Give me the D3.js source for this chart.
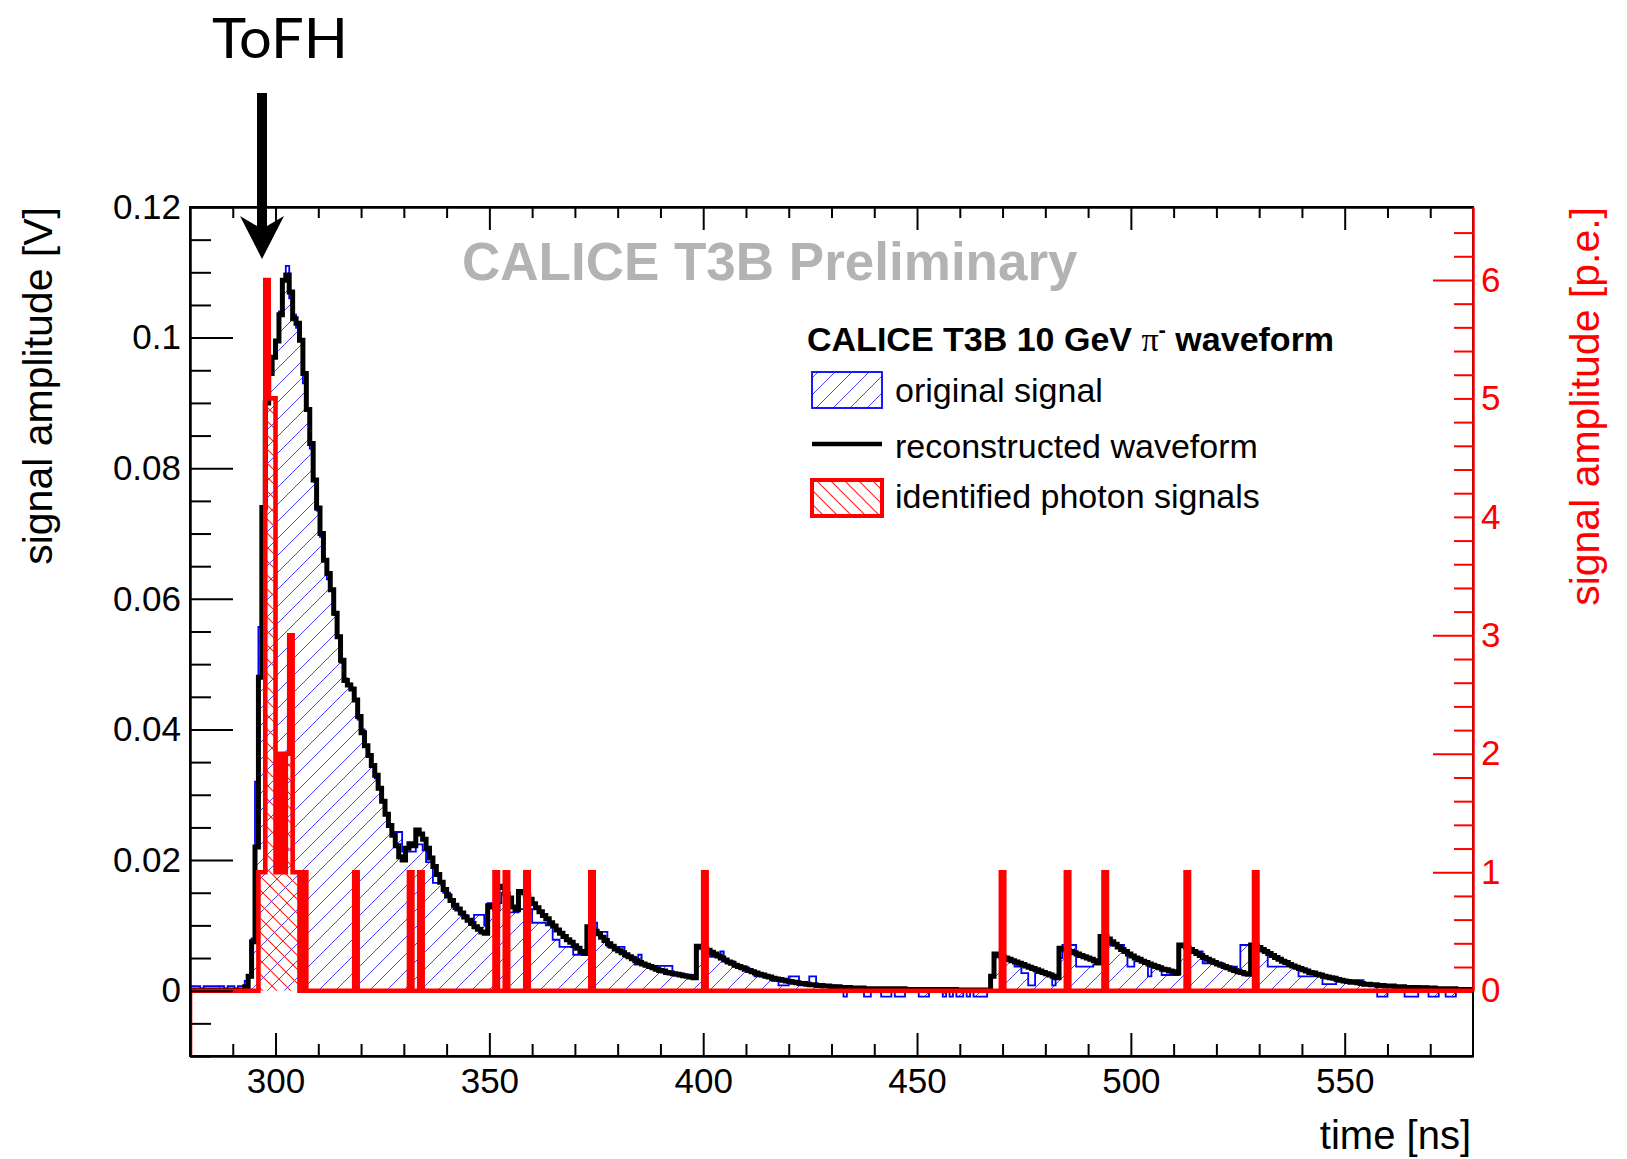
<!DOCTYPE html>
<html><head><meta charset="utf-8">
<script src="https://cdn.jsdelivr.net/npm/d3@7"></script>
<style>body{margin:0;background:#fff}svg{display:block}</style>
</head><body>
<script>
// ---------- DATA ----------
const binStart = 280, binWidth = 0.8;
// reconstructed waveform [V], one value per 0.8 ns bin from 280 ns
const reconstructed = [
0.0001,0.0001,0.0001,0.0001,0.0001,0.0001,0.0001,0.0001,0.0001,0.0001,
0.0001,0.0001,0.0001,0.0001,0.0001,0.0001,0.0006,0.0022,0.0075,0.022,
0.048,0.074,0.090,0.0945,0.097,0.0995,0.1035,0.1088,0.1096,0.107,
0.1029,0.1022,0.0996,0.0945,0.089,0.0838,0.0782,0.0739,0.070,0.0659,
0.0639,0.0614,0.0578,0.0542,0.0506,0.0475,0.0468,0.0462,0.0445,0.042,
0.0395,0.0375,0.036,0.0345,0.033,0.031,0.029,0.027,0.0253,0.0238,
0.0222,0.0205,0.0200,0.0218,0.0225,0.0222,0.0246,0.0240,0.0232,0.0218,
0.0203,0.0190,0.0178,0.0166,0.0155,0.0145,0.0138,0.0131,0.0125,0.0119,
0.0113,0.0108,0.0103,0.0098,0.0094,0.0090,0.0088,0.0130,0.0128,0.0125,
0.0160,0.0158,0.0148,0.0142,0.0128,0.0124,0.0152,0.0150,0.0146,0.0140,
0.0133,0.0127,0.0121,0.0115,0.0110,0.0104,0.0099,0.0093,0.0088,0.0083,
0.0078,0.0074,0.0069,0.0065,0.0060,0.0057,0.0098,0.0095,0.0091,0.0087,
0.0082,0.0077,0.0072,0.0068,0.0064,0.0061,0.0058,0.0055,0.0052,0.0049,
0.0046,0.0043,0.0041,0.0039,0.0037,0.0035,0.0033,0.0031,0.0030,0.0028,
0.0027,0.0026,0.0025,0.0024,0.0023,0.0022,0.0021,0.0020,0.0068,0.0067,
0.0065,0.0062,0.0059,0.0056,0.0053,0.0050,0.0047,0.0044,0.0042,0.0039,
0.0037,0.0035,0.0033,0.0031,0.0029,0.0027,0.0025,0.0024,0.0022,0.0021,
0.0019,0.0018,0.0017,0.0016,0.0015,0.0014,0.0013,0.0012,0.0011,0.0011,
0.0010,0.0009,0.0009,0.0008,0.0008,0.0007,0.0007,0.0006,0.0006,0.0006,
0.0005,0.0005,0.0005,0.0004,0.0004,0.0004,0.0004,0.0003,0.0003,0.0003,
0.0003,0.0003,0.0003,0.0003,0.0003,0.0003,0.0003,0.0003,0.0003,0.0002,
0.0002,0.0002,0.0002,0.0002,0.0002,0.0002,0.0002,0.0002,0.0002,0.0002,
0.0002,0.0002,0.0002,0.0002,0.0001,0.0001,0.0001,0.0001,0.0001,0.0001,
0.0001,0.0001,0.0001,0.0001,0.0022,0.0056,0.0054,0.0052,0.0050,0.0048,
0.0046,0.0044,0.0042,0.0040,0.0038,0.0036,0.0034,0.0032,0.0030,0.0028,
0.0026,0.0024,0.0022,0.0020,0.0065,0.0064,0.0062,0.0060,0.0058,0.0056,
0.0054,0.0052,0.0050,0.0048,0.0046,0.0043,0.0083,0.0083,0.0079,0.0075,
0.0071,0.0067,0.0063,0.0060,0.0056,0.0053,0.0050,0.0048,0.0045,0.0043,
0.0041,0.0039,0.0037,0.0035,0.0033,0.0032,0.0030,0.0029,0.0027,0.0070,
0.0069,0.0066,0.0063,0.0060,0.0057,0.0054,0.0051,0.0048,0.0046,0.0043,
0.0041,0.0039,0.0037,0.0035,0.0033,0.0031,0.0029,0.0028,0.0026,0.0025,
0.0070,0.0069,0.0066,0.0063,0.0060,0.0057,0.0054,0.0051,0.0048,0.0045,
0.0043,0.0040,0.0038,0.0036,0.0034,0.0032,0.0030,0.0028,0.0027,0.0025,
0.0024,0.0022,0.0021,0.0020,0.0019,0.0017,0.0016,0.0015,0.0014,0.0013,
0.0013,0.0012,0.0011,0.0010,0.0010,0.0009,0.0009,0.0008,0.0008,0.0007,
0.0007,0.0007,0.0006,0.0006,0.0006,0.0005,0.0005,0.0005,0.0005,0.0004,
0.0004,0.0004,0.0004,0.0004,0.0003,0.0003,0.0003,0.0003,0.0003,0.0003,
0.0002,0.0002,0.0002,0.0002,0.0002];
// original signal [V]: [start time of a run of equal bins, value]
const originalSignal = [[280.0,0.0007],[282.4,0],[283.2,0.0007],[288.0,0],[288.8,0.0007],[290.4,0],[291.2,0.0007],[292.8,0.0015],[293.6,0.0022],[294.4,0.008],[295.2,0.032],[296.0,0.0557],[296.8,0.074],[297.6,0.0966],[299.2,0.097],[300.0,0.0995],[300.8,0.104],[301.6,0.1088],[302.4,0.111],[303.2,0.106],[304.0,0.1035],[304.8,0.1015],[305.6,0.0996],[306.4,0.093],[307.2,0.089],[308.0,0.083],[308.8,0.078],[309.6,0.0735],[310.4,0.0695],[311.2,0.066],[312.0,0.063],[312.8,0.0612],[313.6,0.0575],[314.4,0.054],[315.2,0.0502],[316.0,0.0478],[316.8,0.047],[317.6,0.0462],[318.4,0.0445],[319.2,0.0415],[320.0,0.040],[320.8,0.0375],[321.6,0.0358],[322.4,0.0345],[323.2,0.0325],[324.0,0.031],[324.8,0.029],[325.6,0.027],[326.4,0.0253],[327.2,0.0243],[329.6,0.0213],[332.8,0.0224],[334.4,0.0215],[335.2,0.0197],[336.8,0.0165],[339.2,0.0150],[340.8,0.0138],[341.6,0.0125],[343.2,0.0116],[344.8,0.0108],[346.4,0.0116],[348.8,0.0100],[349.6,0.0134],[352.8,0.0150],[353.6,0.0120],[356.8,0.0125],[360.0,0.0104],[363.2,0.0100],[364.8,0.0078],[366.4,0.0067],[369.6,0.0055],[372.8,0.0085],[373.6,0.0104],[375.2,0.0090],[377.6,0.0067],[381.6,0.0052],[384.0,0.0040],[384.8,0.0055],[385.6,0.0040],[386.4,0.0038],[392.8,0.0026],[395.2,0.0024],[398.4,0.0070],[400.0,0.0060],[401.6,0.0052],[404.0,0.0060],[404.8,0.0045],[407.2,0.0037],[410.4,0.0030],[412.0,0.0022],[416.0,0.0015],[417.6,0.0008],[420.0,0.0022],[422.4,0.0008],[424.8,0.0022],[426.4,0.0008],[431.2,0],[432.8,-0.0009],[433.6,0],[437.6,-0.0009],[439.2,0],[441.6,-0.0009],[444.0,0],[444.8,-0.0009],[447.2,0],[450.4,-0.0009],[452.8,0],[456.0,-0.0009],[456.8,0],[457.6,-0.0009],[458.4,0],[459.2,-0.0009],[460.8,0],[461.6,-0.0009],[462.4,0],[463.2,-0.0009],[466.4,0],[467.2,0.0022],[468.0,0.0052],[470.4,0.0045],[472.8,0.0037],[474.4,0.0027],[476.0,0.0008],[477.6,0.0027],[481.6,0.0008],[482.4,0.0022],[483.2,0.0050],[484.0,0.0070],[487.2,0.0037],[491.2,0.0040],[492.8,0.0070],[498.4,0.0060],[499.2,0.0037],[500.8,0.0045],[504.0,0.0022],[504.8,0.0037],[507.2,0.0024],[511.2,0.0070],[512.8,0.0060],[516.8,0.0042],[521.6,0.0037],[524.8,0.0027],[525.6,0.0070],[528.0,0.0060],[532.0,0.0037],[539.2,0.0022],[544.8,0.0010],[548.0,0.0016],[554.4,0.0008],[557.6,-0.0009],[560.0,0.0007],[564.0,-0.0009],[567.2,0.0007],[569.6,-0.0009],[572.0,0],[573.6,-0.0009],[576.0,0]];
// identified photon signals: bin start time [ns] and amplitude [p.e.]
const photonTimes  = [296.0,296.8,297.6,298.4,299.2,300.0,300.8,301.6,302.4,303.2,304.0,304.8,306.4,318.4,331.2,333.6,351.2,353.6,358.4,373.6,400.0,469.6,484.8,493.6,512.8,528.8];
const photonCounts = [1,1,6,5,5,1,2,1,2,3,1,1,1,1,1,1,1,1,1,1,1,1,1,1,1,1];
const xMajorTicks = [300,350,400,450,500,550];
const yLeftTicks = [0,0.02,0.04,0.06,0.08,0.1,0.12];
const yRightTicks = [0,1,2,3,4,5,6];
const legendLabels = ["original signal","reconstructed waveform","identified photon signals"];

// ---------- LAYOUT ----------
const W = 1627, H = 1159;
const L = 190, R = 1473, T = 207, B = 1056;
const FONT = "'Liberation Sans', Arial, Helvetica, sans-serif";
const x = d3.scaleLinear().domain([280,580]).range([L,R]);
const y = d3.scaleLinear().domain([-0.01,0.12]).range([B,T]);
const yR = d3.scaleLinear().domain([0,6.616]).range([y(0),T]);

const nBins = reconstructed.length;
const edge = k => x(binStart + binWidth*k);

// original signal expanded to bins
const runStarts = originalSignal.map(d=>d[0]);
const original = d3.range(nBins).map(k=>{
  const tc = binStart + binWidth*(k+0.5);
  const i = d3.bisectRight(runStarts, tc) - 1;
  return originalSignal[Math.max(0,i)][1];
});
// photon histogram
const photons = new Array(nBins).fill(0);
photonTimes.forEach((t,i)=>{ photons[Math.round((t-binStart)/binWidth)] += photonCounts[i]; });

function steps(vals, yf){
  let p = "";
  for(let k=0;k<vals.length;k++){
    p += `H${edge(k+1)}`;
    if(k+1<vals.length) p += `V${yf(vals[k+1])}`;
  }
  return p;
}
const outline = (vals, yf) => `M${edge(0)},${yf(vals[0])}` + steps(vals, yf);
const area = (vals, yf) => `M${edge(0)},${yf(0)}V${yf(vals[0])}` + steps(vals, yf) + `V${yf(0)}Z`;

const svg = d3.select("body").append("svg").attr("width",W).attr("height",H)
  .style("font-family",FONT);
const defs = svg.append("defs");
defs.append("pattern").attr("id","hBlue").attr("patternUnits","userSpaceOnUse")
  .attr("width",17).attr("height",17)
  .append("path").attr("d","M0,17L17,0M-4,4L4,-4M13,21L21,13")
  .attr("stroke","#4747ff").attr("stroke-width",1);
defs.append("pattern").attr("id","hRed").attr("patternUnits","userSpaceOnUse")
  .attr("width",14).attr("height",14)
  .append("path").attr("d","M0,0L14,14M-4,10L4,18M10,-4L18,4")
  .attr("stroke","#ff2020").attr("stroke-width",1.1);
defs.append("clipPath").attr("id","clip").append("rect")
  .attr("x",L).attr("y",T).attr("width",R-L).attr("height",B-T);

svg.append("rect").attr("width",W).attr("height",H).attr("fill","#fff");

const plot = svg.append("g").attr("clip-path","url(#clip)");
// original signal
plot.append("path").attr("d",area(original,y)).attr("fill","url(#hBlue)");
plot.append("path").attr("d",outline(original,y)).attr("fill","none")
  .attr("stroke","#0000ff").attr("stroke-width",1.8);
// reconstructed waveform
plot.append("path").attr("d",outline(reconstructed,y)).attr("fill","none")
  .attr("stroke","#000").attr("stroke-width",5).attr("stroke-linejoin","miter");
// identified photon signals
plot.append("path").attr("d",area(photons,yR)).attr("fill","url(#hRed)");
plot.append("path").attr("d",`M${edge(0)},${B}V${yR(photons[0])}` + steps(photons,yR))
  .attr("fill","none").attr("stroke","#ff0000").attr("stroke-width",4.6).attr("stroke-linejoin","miter");

// frame
svg.append("rect").attr("x",L).attr("y",T).attr("width",R-L).attr("height",B-T)
  .attr("fill","none").attr("stroke","#000").attr("stroke-width",2);

function styleAxis(g, color){
  g.attr("font-family",FONT).attr("font-size",35);
  g.selectAll("path.domain").attr("stroke",color).attr("stroke-width",2);
  g.selectAll(".tick line").attr("stroke",color).attr("stroke-width",2);
  g.selectAll(".tick text").attr("fill",color);
}
const isMajor = (v, arr) => arr.some(a=>Math.abs(a-v)<1e-9);
const yMinor = d3.range(-0.01,0.1201,0.005).filter(v=>!isMajor(v,yLeftTicks));
const xMinor = d3.range(290,580,10).filter(v=>!isMajor(v,xMajorTicks));
const rMinor = d3.range(0.2,6.5,0.2).filter(v=>Math.abs(v-Math.round(v))>1e-6);

// left axis
let g = svg.append("g").attr("transform",`translate(${L},0)`)
  .call(d3.axisLeft(y).tickValues(yLeftTicks).tickFormat(d=>String(+d.toFixed(2)))
    .tickSizeInner(-43).tickSizeOuter(0).tickPadding(9));
styleAxis(g,"#000");
g = svg.append("g").attr("transform",`translate(${L},0)`)
  .call(d3.axisLeft(y).tickValues(yMinor).tickFormat("").tickSizeInner(-21).tickSizeOuter(0));
styleAxis(g,"#000");
// bottom axis
g = svg.append("g").attr("transform",`translate(0,${B})`)
  .call(d3.axisBottom(x).tickValues(xMajorTicks).tickFormat(d3.format("d"))
    .tickSizeInner(-23).tickSizeOuter(0).tickPadding(12));
styleAxis(g,"#000");
g = svg.append("g").attr("transform",`translate(0,${B})`)
  .call(d3.axisBottom(x).tickValues(xMinor).tickFormat("").tickSizeInner(-12).tickSizeOuter(0));
styleAxis(g,"#000");
// top ticks
g = svg.append("g").attr("transform",`translate(0,${T})`)
  .call(d3.axisTop(x).tickValues(xMajorTicks).tickFormat("").tickSizeInner(-23).tickSizeOuter(0));
styleAxis(g,"#000");
g = svg.append("g").attr("transform",`translate(0,${T})`)
  .call(d3.axisTop(x).tickValues(xMinor).tickFormat("").tickSizeInner(-11).tickSizeOuter(0));
styleAxis(g,"#000");
// right red axis
g = svg.append("g").attr("transform",`translate(${R},0)`)
  .call(d3.axisRight(yR).tickValues(yRightTicks).tickFormat(d3.format("d"))
    .tickSizeInner(-40).tickSizeOuter(0).tickPadding(8));
styleAxis(g,"#ff0000");
g.selectAll(".tick").filter(d=>d===4||d===5).select("line").attr("x2",-19);
g = svg.append("g").attr("transform",`translate(${R},0)`)
  .call(d3.axisRight(yR).tickValues(rMinor).tickFormat("").tickSizeInner(-19).tickSizeOuter(0));
styleAxis(g,"#ff0000");

// axis titles
svg.append("text").attr("transform",`translate(52,${T}) rotate(-90)`).attr("text-anchor","end")
  .attr("font-size",41).text("signal amplitude [V]");
svg.append("text").attr("transform",`translate(1599,${T}) rotate(-90)`).attr("text-anchor","end")
  .attr("font-size",41).attr("fill","#ff0000").text("signal amplitude [p.e.]");
svg.append("text").attr("x",1471).attr("y",1149).attr("text-anchor","end")
  .attr("font-size",40).text("time [ns]");

// watermark
svg.append("text").attr("x",462).attr("y",280).attr("font-size",53).attr("font-weight","bold")
  .attr("fill","#b3b3b3").text("CALICE T3B Preliminary");

// legend
const lt = svg.append("text").attr("x",807).attr("y",351).attr("font-size",34).attr("font-weight","bold");
lt.append("tspan").text("CALICE T3B 10 GeV ");
lt.append("tspan").attr("font-family","'Liberation Serif','DejaVu Serif',serif").attr("font-weight","normal").text("π");
lt.append("tspan").attr("font-size",22).attr("dy",-14).text("-");
lt.append("tspan").attr("dy",14).text(" waveform");
svg.append("rect").attr("x",812).attr("y",372).attr("width",70).attr("height",36)
  .attr("fill","url(#hBlue)").attr("stroke","#0000ff").attr("stroke-width",1.8);
svg.append("line").attr("x1",812).attr("x2",882).attr("y1",444).attr("y2",444)
  .attr("stroke","#000").attr("stroke-width",4.5);
svg.append("rect").attr("x",812).attr("y",480).attr("width",70).attr("height",36)
  .attr("fill","url(#hRed)").attr("stroke","#ff0000").attr("stroke-width",4);
[401.5,457.5,508].forEach((yy,i)=>{
  svg.append("text").attr("x",895).attr("y",yy).attr("font-size",34).text(legendLabels[i]);
});

// ToFH annotation
svg.append("text").attr("x",212).attr("y",58).attr("font-size",57)
  .attr("font-family","Lato, 'Noto Sans', sans-serif").attr("textLength",136)
  .attr("lengthAdjust","spacingAndGlyphs").text("ToFH");
svg.append("path").attr("d","M257,93H267V226L284,216L262,259L240,216L257,226Z").attr("fill","#000");
</script>
</body></html>
